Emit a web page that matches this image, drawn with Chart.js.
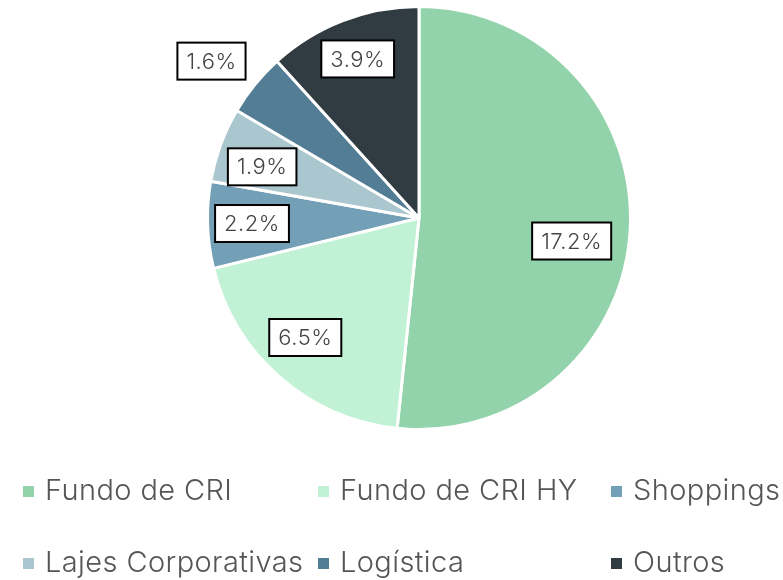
<!DOCTYPE html>
<html>
<head>
<meta charset="utf-8">
<script src="https://cdn.jsdelivr.net/npm/chart.js@4"></script>
<style>
  html, body { margin: 0; padding: 0; background: #fff; }
  #box { width: 783px; height: 580px; }
</style>
</head>
<body>
<div id="box"><canvas id="pizza"></canvas></div>
<script>
const categorias = ["Fundo de CRI", "Fundo de CRI HY", "Shoppings", "Lajes Corporativas", "Logística", "Outros"];
const valores = [17.2, 6.5, 2.2, 1.9, 1.6, 3.9];
const cores = ["#93d3ab", "#c1f2d5", "#73a0b6", "#aac6ce", "#537c95", "#303c42"];
// label box placement: distance (fraction of radius) and small angle nudge (deg)
const distRotulo = [0.73, 0.78, 0.79, 0.78, 1.23, 0.806];
const giroRotulo = [5.6, 2.5, 0, -2.2, -2.1, 0];

const fonte = "Inter, 'Open Sans', sans-serif";

const rotulos = {
  id: "rotulos",
  afterDatasetsDraw(chart) {
    const ctx = chart.ctx;
    const arcs = chart.getDatasetMeta(0).data;
    ctx.save();
    ctx.font = "300 22px " + fonte;
    ctx.letterSpacing = "0.5px";
    ctx.textAlign = "center";
    ctx.textBaseline = "middle";
    arcs.forEach((arc, i) => {
      const meio = (arc.startAngle + arc.endAngle) / 2 + giroRotulo[i] * Math.PI / 180;
      const r = arc.outerRadius * distRotulo[i];
      const x = arc.x + Math.cos(meio) * r;
      const y = arc.y + Math.sin(meio) * r;
      const txt = chart.data.datasets[0].data[i].toFixed(1) + "%";
      const w = ctx.measureText(txt).width + 18;
      const h = 37;
      ctx.fillStyle = "#fff";
      ctx.fillRect(x - w / 2, y - h / 2, w, h);
      ctx.lineWidth = 2;
      ctx.strokeStyle = "#000";
      ctx.strokeRect(x - w / 2, y - h / 2, w, h);
      ctx.fillStyle = "#444";
      ctx.fillText(txt, x, y + 1);
    });
    ctx.restore();
  }
};

// legend in a fixed 3-column grid
const legenda = {
  id: "legenda",
  afterDraw(chart) {
    const ctx = chart.ctx;
    const cols = [23, 318, 611];
    const linhas = [500, 572];
    ctx.save();
    ctx.font = "300 29px " + fonte;
    ctx.letterSpacing = "0.4px";
    ctx.textBaseline = "alphabetic";
    ctx.textAlign = "left";
    chart.data.labels.forEach((lab, i) => {
      const x = cols[i % 3];
      const y = linhas[Math.floor(i / 3)];
      ctx.fillStyle = chart.data.datasets[0].backgroundColor[i];
      ctx.fillRect(x, y - 14, 11, 11);
      ctx.fillStyle = "#555";
      ctx.fillText(lab, x + 22, y);
    });
    ctx.restore();
  }
};

new Chart(document.querySelector("#pizza"), {
  type: "pie",
  data: {
    labels: categorias,
    datasets: [
      {
        data: valores,
        backgroundColor: cores,
        borderColor: "#fff",
        borderWidth: 3,
        hoverOffset: 0,
      },
    ],
  },
  options: {
    responsive: true,
    maintainAspectRatio: false,
    animation: false,
    layout: { padding: { top: 5, bottom: 149, left: 55, right: 0 } },
    plugins: {
      legend: { display: false },
      tooltip: { enabled: false },
    },
  },
  plugins: [rotulos, legenda],
});
</script>
</body>
</html>
